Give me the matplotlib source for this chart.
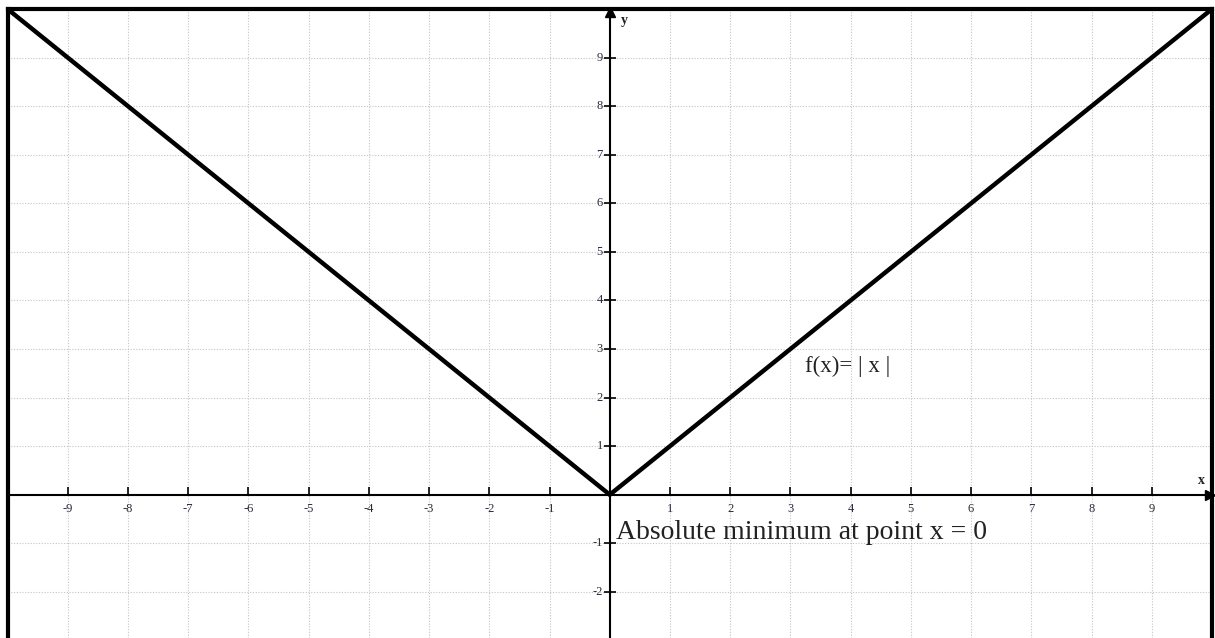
import numpy as np
import matplotlib.pyplot as plt

# data
x_vals = [-10, 0, 10]
y_vals = [10, 0, 10]
x_ticks = [-9, -8, -7, -6, -5, -4, -3, -2, -1, 1, 2, 3, 4, 5, 6, 7, 8, 9]
y_ticks = [-2, -1, 1, 2, 3, 4, 5, 6, 7, 8, 9]
grid_x = list(range(-10, 11))
grid_y = list(range(-3, 11))

plt.rcParams['font.family'] = ['Liberation Serif', 'DejaVu Serif']

fig = plt.figure(figsize=(12.15, 6.38), dpi=100)
W, H = 1215, 638
ax = fig.add_axes([7.5 / W, 0, (1212 - 7.5) / W, (638 - 9) / H])
ax.set_xlim(-10, 10)
ax.set_ylim(-2.95, 10)

# grid
for gx in grid_x:
    ax.axvline(gx, color='#c4c4c4', lw=0.8, ls=(0, (1, 1.5)), zorder=0)
for gy in grid_y:
    ax.axhline(gy, color='#c4c4c4', lw=0.8, ls=(0, (1, 1.5)), zorder=0)

# axes lines with arrows
ax.axhline(0, color='black', lw=1.5, zorder=2)
ax.axvline(0, color='black', lw=1.5, zorder=2)
ax.plot([9.97], [0], marker='>', color='black', ms=7, clip_on=False, zorder=3)
ax.plot([0], [9.93], marker='^', color='black', ms=7, clip_on=False, zorder=3)

# ticks
ax.plot(x_ticks, [0] * len(x_ticks), ls='none', marker=2, color='black', ms=6, mew=1.2, zorder=3)
ax.plot([0] * len(y_ticks), y_ticks, ls='none', marker='_', color='black', ms=9, mew=1.2, zorder=3)
for t in x_ticks:
    ax.annotate(str(t), (t, 0), xytext=(0, -6), textcoords='offset points',
                ha='center', va='top', fontsize=9, color='#2a2a3a')
for t in y_ticks:
    ax.annotate(str(t), (0, t), xytext=(-5, 0), textcoords='offset points',
                ha='right', va='center', fontsize=9, color='#2a2a3a')
ax.annotate('y', (0, 10), xytext=(8, -8), textcoords='offset points',
            ha='left', va='center', fontsize=10, fontweight='bold', color='#222222')
ax.annotate('x', (10, 0), xytext=(-5, 10), textcoords='offset points',
            ha='right', va='center', fontsize=10, fontweight='bold', color='#222222')

# function
ax.plot(x_vals, y_vals, color='black', lw=3.2, zorder=4, solid_joinstyle='miter')

ax.text(3.25, 2.65, 'f(x)= | x |', fontsize=16.5, color='#222222', ha='left', va='center')
ax.text(0.1, -0.78, 'Absolute minimum at point x = 0', fontsize=20, color='#222222',
        ha='left', va='center')

ax.set_xticks([])
ax.set_yticks([])
for side in ['top', 'left', 'right']:
    ax.spines[side].set_linewidth(3)
    ax.spines[side].set_color('black')
ax.spines['bottom'].set_visible(False)

fig.savefig('out.png', dpi=100)
